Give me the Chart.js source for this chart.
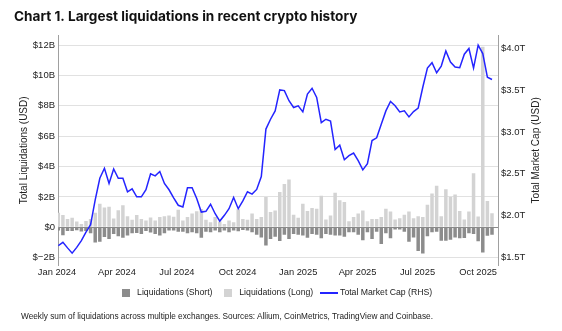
<!DOCTYPE html>
<html><head><meta charset="utf-8">
<script src="https://cdn.jsdelivr.net/npm/chart.js@4.4.1/dist/chart.umd.min.js"></script>
<style>
html,body{margin:0;padding:0;background:#fff;}
#wrap{position:relative;width:562px;height:331px;overflow:hidden;}
#c{display:block;}
#note{position:absolute;left:21px;top:312px;font:8.25px/10px "Liberation Sans",Arial,sans-serif;color:#222;white-space:nowrap;}
</style></head><body>
<div id="wrap"><canvas id="c" width="562" height="331" style="width:562px;height:331px"></canvas>
<div id="note">Weekly sum of liquidations across multiple exchanges. Sources: Allium, CoinMetrics, TradingView and Coinbase.</div></div>
<script>
// ---- data (billions USD / trillions USD) ----
const firstWeek = '2024-01-03';
const liqLong = [
 0.95,0.8,0.55,0.62,0.38,0.22,0.42,0.55,0.95,1.55,1.3,1.35,0.58,1.12,1.45,0.72,0.5,0.8,0.55,0.45,0.65,0.45,0.68,0.72,
 0.78,0.7,1.15,0.45,0.67,0.9,1.05,1.2,0.5,0.33,0.67,0.38,0.22,0.45,0.33,1.18,0.55,0.5,0.9,0.55,0.67,2.0,1.0,1.1,
 2.33,2.85,3.15,0.82,0.62,1.55,1.07,1.27,1.22,2.07,0.51,0.78,2.27,1.78,1.67,0.4,0.67,0.9,1.1,0.4,0.55,0.55,0.67,1.22,
 1.04,0.51,0.6,0.82,1.04,0.6,0.73,0.67,1.49,2.22,2.73,0.73,2.51,2.0,2.16,1.07,0.51,1.04,3.56,0.71,11.9,1.73,0.93
];
const liqShort = [
 -0.22,-0.52,-0.25,-0.25,-0.2,-0.28,-0.25,-0.4,-1.0,-0.95,-0.65,-0.78,-0.45,-0.6,-0.7,-0.55,-0.4,-0.38,-0.45,-0.25,-0.35,-0.45,-0.55,-0.4,
 -0.22,-0.22,-0.3,-0.3,-0.4,-0.33,-0.4,-0.7,-0.3,-0.33,-0.22,-0.33,-0.22,-0.33,-0.22,-0.27,-0.18,-0.22,-0.33,-0.5,-0.67,-1.2,-0.78,-0.62,
 -0.9,-0.5,-0.78,-0.45,-0.5,-0.55,-0.7,-0.45,-0.5,-0.73,-0.45,-0.5,-0.55,-0.55,-0.62,-0.33,-0.33,-0.5,-0.85,-0.33,-0.78,-0.29,-1.1,-0.4,
 -0.73,-0.15,-0.15,-0.29,-0.96,-0.67,-1.56,-1.73,-0.6,-0.33,-0.29,-0.89,-0.89,-0.82,-0.67,-0.73,-0.71,-0.4,-0.44,-0.93,-1.67,-0.56,-0.49
];
const marketCap = [
 1.641,1.681,1.615,1.552,1.621,1.702,1.802,1.893,2.188,2.446,
 2.566,2.385,2.557,2.446,2.446,2.285,2.321,2.225,2.225,2.309,
 2.499,2.475,2.527,2.385,2.309,2.213,2.124,2.104,2.333,2.333,
 2.204,2.043,2.052,2.136,2.023,1.935,2.004,2.083,2.216,2.083,
 2.176,2.285,2.257,2.313,2.466,3.034,3.151,3.251,3.501,3.493,
 3.372,3.291,3.312,3.239,3.453,3.521,3.412,3.110,3.151,3.130,
 2.789,2.841,2.668,2.716,2.748,2.656,2.547,2.620,2.897,2.929,
 3.091,3.251,3.364,3.312,3.239,3.251,3.179,3.243,3.284,3.533,
 3.762,3.827,3.707,3.786,3.967,3.835,3.774,3.767,3.928,3.996,
 3.762,4.036,3.936,3.653,3.626
];
const liqTicks = [-2,0,2,4,6,8,10,12];
const capTicks = [1.5,2.0,2.5,3.0,3.5,4.0];
const quarterDates = ['2024-01-01','2024-04-01','2024-07-01','2024-10-01','2025-01-01','2025-04-01','2025-07-01','2025-10-01'];
const quarterLabels = ['Jan 2024','Apr 2024','Jul 2024','Oct 2024','Jan 2025','Apr 2025','Jul 2025','Oct 2025'];

// ---- helpers ----
const DAY = 864e5;
const origin = Date.parse('2024-01-01T00:00:00Z');
const dayOf = s => (Date.parse(s + 'T00:00:00Z') - origin) / DAY;
const weeks = liqLong.map((_, i) => new Date(Date.parse(firstWeek + 'T00:00:00Z') + i * 7 * DAY).toISOString().slice(0, 10));
const xs = weeks.map(dayOf);
const quarterDays = quarterDates.map(dayOf);

const F = '"Liberation Sans", Arial, Helvetica, sans-serif';
Chart.defaults.font.family = F;
Chart.defaults.color = '#222';

function icon(w, h, color) {
  const c = document.createElement('canvas'); c.width = w; c.height = h;
  const g = c.getContext('2d'); g.fillStyle = color; g.fillRect(0, 0, w, h); return c;
}
const COL_SHORT = '#8c8c8c', COL_LONG = '#d3d3d3', COL_LINE = '#2424ff';
const icons = [icon(8, 8, COL_SHORT), icon(8, 8, COL_LONG), icon(18, 2, COL_LINE)];

const rightTitle = {
  id: 'rightTitle',
  afterDraw(chart) {
    const {ctx, chartArea} = chart; const s = chart.scales.y1;
    ctx.save();
    ctx.font = '10px ' + F; ctx.fillStyle = '#222';
    ctx.textAlign = 'center'; ctx.textBaseline = 'middle';
    ctx.translate(s.right - 1, (chartArea.top + chartArea.bottom) / 2);
    ctx.rotate(-Math.PI / 2);
    ctx.fillText('Total Market Cap (USD)', 0, 0);
    ctx.restore();
  }
};

new Chart(document.getElementById('c'), {
  type: 'bar',
  data: {
    datasets: [
      { type: 'bar', label: 'Liquidations (Short)', data: xs.map((x, i) => ({x, y: liqShort[i]})),
        backgroundColor: COL_SHORT, stack: 'liq', yAxisID: 'y', categoryPercentage: 1, barPercentage: 0.76, clip: 0, order: 1 },
      { type: 'bar', label: 'Liquidations (Long)', data: xs.map((x, i) => ({x, y: liqLong[i]})),
        backgroundColor: COL_LONG, stack: 'liq', yAxisID: 'y', categoryPercentage: 1, barPercentage: 0.76, clip: 0, order: 1 },
      { type: 'line', label: 'Total Market Cap (RHS)', data: xs.map((x, i) => ({x, y: marketCap[i]})),
        borderColor: COL_LINE, backgroundColor: COL_LINE, borderWidth: 1.5, pointRadius: 0, tension: 0, yAxisID: 'y1', clip: 0, order: 0 }
    ]
  },
  options: {
    responsive: false, animation: false, devicePixelRatio: 1,
    layout: { padding: { left: 14, right: 25, top: 0, bottom: 24 } },
    plugins: {
      tooltip: { enabled: false },
      title: { display: true, text: 'Chart 1. Largest liquidations in recent crypto history', align: 'start',
        font: { family: 'Inter', size: 13.6, weight: '700' }, color: '#111', padding: { top: 8.5, bottom: 10.2 } },
      legend: { position: 'bottom',
        labels: { usePointStyle: true, pointStyleWidth: 14, boxHeight: 9, padding: 8.5,
          font: { family: F, size: 8.7 }, color: '#222',
          sort: (a, b) => a.datasetIndex - b.datasetIndex,
          generateLabels(chart) {
            const items = Chart.defaults.plugins.legend.labels.generateLabels(chart);
            items.forEach(it => { it.pointStyle = icons[it.datasetIndex]; });
            return items;
          } } }
    },
    scales: {
      x: { type: 'linear', offset: false, min: xs[0] - 0.45, max: xs[xs.length - 1] + 9.1,
        grid: { display: false, drawTicks: false }, border: { display: false },
        afterBuildTicks: s => { s.ticks = quarterDays.map(v => ({value: v})); },
        ticks: { autoSkip: false, maxRotation: 0, minRotation: 0, padding: 1.5, font: { size: 9.3 }, color: '#222',
          callback: (v, i) => quarterLabels[i] } },
      y: { type: 'linear', position: 'left', stacked: true, min: -2.53, max: 12.67,
        afterBuildTicks: s => { s.ticks = liqTicks.map(v => ({value: v})); },
        afterFit: s => { s.width = 44; },
        grid: { drawTicks: false, color: c => (c.tick && c.tick.value === 0) ? '#8a8a8a' : '#e1e1e1' },
        border: { display: true, color: '#a0a0a0' },
        ticks: { padding: 3, font: { size: 9.5 }, color: '#222',
          callback: v => v === 0 ? '$0' : (v < 0 ? '$\u2212' + Math.abs(v) + 'B' : '$' + v + 'B') },
        title: { display: true, text: 'Total Liquidations (USD)', font: { size: 10 }, color: '#222', padding: { top: 4, bottom: 2 } } },
      y1: { type: 'linear', position: 'right', min: 1.403, max: 4.157,
        afterBuildTicks: s => { s.ticks = capTicks.map(v => ({value: v})); },
        afterFit: s => { s.width = 39; },
        grid: { drawOnChartArea: false, drawTicks: false },
        border: { display: true, color: '#a0a0a0' },
        ticks: { padding: 3, font: { size: 9.5 }, color: '#222', callback: v => '$' + v.toFixed(1) + 'T' } }
    }
  },
  plugins: [rightTitle]
});
</script>
</body></html>
